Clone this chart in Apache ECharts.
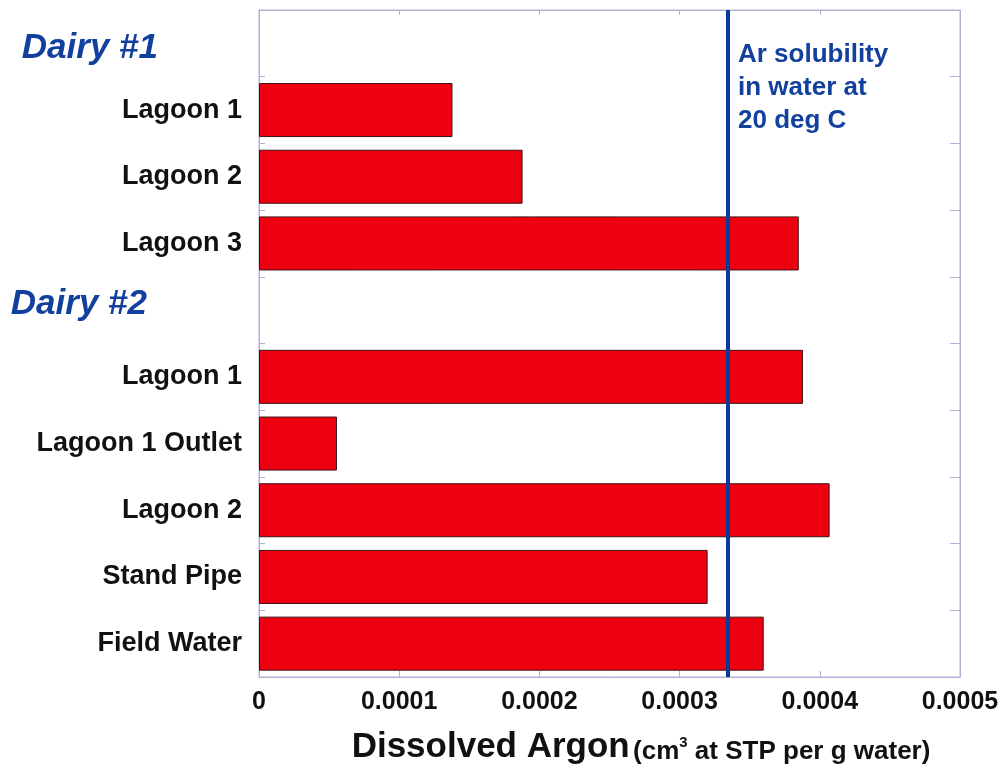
<!DOCTYPE html>
<html>
<head>
<meta charset="utf-8">
<script src="https://cdn.jsdelivr.net/npm/echarts@6/dist/echarts.min.js"></script>
<style>
  html, body { margin: 0; padding: 0; background: #fff; }
  #chart { width: 1003px; height: 768px; }
</style>
</head>
<body>
<div id="chart"></div>
<script>
// rows top to bottom; group header rows carry no bar
const categories = ['Dairy #1', 'Lagoon 1', 'Lagoon 2', 'Lagoon 3', 'Dairy #2',
  'Lagoon 1', 'Lagoon 1 Outlet', 'Lagoon 2', 'Stand Pipe', 'Field Water'];
const headerRows = { 0: 'h1', 4: 'h2' };
const argon = ['-', 0.000138, 0.000188, 0.000385, '-',
  0.000388, 0.0000556, 0.000407, 0.00032, 0.00036];
const solubility = 0.0003345; // Ar solubility in water at 20 deg C
const xTickLabels = ['0', '0.0001', '0.0002', '0.0003', '0.0004', '0.0005'];

const FONT = "'Liberation Sans', Arial, sans-serif";
const frameColor = '#aeb2d4';
const navy = '#12409e';

const chart = echarts.init(document.getElementById('chart'));

const option = {
  animation: false,
  backgroundColor: '#fff',
  grid: {
    left: 259, right: 43, top: 10, bottom: 91,
    outerBoundsMode: 'none',
    show: true, borderColor: frameColor, borderWidth: 1
  },
  xAxis: [
    {
      type: 'value',
      min: 0, max: 0.0005, interval: 0.0001,
      axisLine: { show: true, lineStyle: { color: frameColor } },
      axisTick: { show: true, inside: true, length: 6, lineStyle: { color: frameColor } },
      splitLine: { show: false },
      axisLabel: {
        margin: 13,
        fontFamily: FONT, fontWeight: 'bold', fontSize: 25, color: '#111',
        formatter: (v, i) => xTickLabels[i]
      },
      name: '{a|Dissolved Argon} {b|(cm}{s|3}{b| at STP per g water)}',
      nameLocation: 'middle',
      nameGap: 53,
      nameTextStyle: {
        padding: [0, 0, 0, 63],
        rich: {
          a: { fontFamily: FONT, fontWeight: 'bold', fontSize: 35, color: '#111', verticalAlign: 'bottom' },
          b: { fontFamily: FONT, fontWeight: 'bold', fontSize: 26, color: '#111', verticalAlign: 'bottom' },
          s: { fontFamily: FONT, fontWeight: 'bold', fontSize: 15, color: '#111', verticalAlign: 'top', padding: [5, 0, 0, 0] }
        }
      }
    },
    {
      type: 'value',
      position: 'top',
      min: 0, max: 0.0005, interval: 0.0001,
      axisLine: { show: true, onZero: false, lineStyle: { color: frameColor } },
      axisTick: { show: true, inside: true, length: 5, lineStyle: { color: frameColor } },
      axisLabel: { show: false },
      splitLine: { show: false }
    }
  ],
  yAxis: [
    {
      type: 'category',
      inverse: true,
      data: categories,
      axisLine: { show: true, onZero: false, lineStyle: { color: frameColor } },
      axisTick: { show: true, inside: true, length: 6, lineStyle: { color: frameColor } },
      axisLabel: {
        interval: 0,
        margin: 17,
        fontFamily: FONT, fontWeight: 'bold', fontSize: 27, color: '#111',
        formatter: (v, i) => headerRows[i] ? '{' + headerRows[i] + '|' + v + '}' : v,
        rich: {
          h1: { fontFamily: FONT, fontWeight: 'bold', fontStyle: 'italic', fontSize: 35, color: navy, padding: [10, 84, 0, 0] },
          h2: { fontFamily: FONT, fontWeight: 'bold', fontStyle: 'italic', fontSize: 35, color: navy, padding: [0, 95, 12, 0] }
        }
      }
    },
    {
      type: 'category',
      inverse: true,
      position: 'right',
      data: categories,
      axisLine: { show: true, onZero: false, lineStyle: { color: frameColor } },
      axisTick: { show: true, inside: true, length: 10, lineStyle: { color: frameColor } },
      axisLabel: { show: false }
    }
  ],
  series: [
    {
      name: 'Dissolved Argon',
      type: 'bar',
      data: argon,
      barCategoryGap: '19%',
      itemStyle: { color: '#ee0010', borderColor: '#3b1414', borderWidth: 1 },
      markLine: {
        silent: true,
        precision: 8,
        symbol: ['none', 'none'],
        label: { show: false },
        lineStyle: { color: '#0c3a98', width: 4, type: 'solid' },
        data: [{ xAxis: solubility }]
      },
      z: 2
    }
  ],
  graphic: [
    {
      type: 'text',
      left: 738,
      top: 38,
      z: 10,
      style: {
        text: 'Ar solubility\nin water at\n20 deg C',
        fontFamily: FONT, fontWeight: 'bold', fontSize: 26,
        lineHeight: 33,
        fill: navy
      }
    }
  ]
};

chart.setOption(option);
</script>
</body>
</html>
